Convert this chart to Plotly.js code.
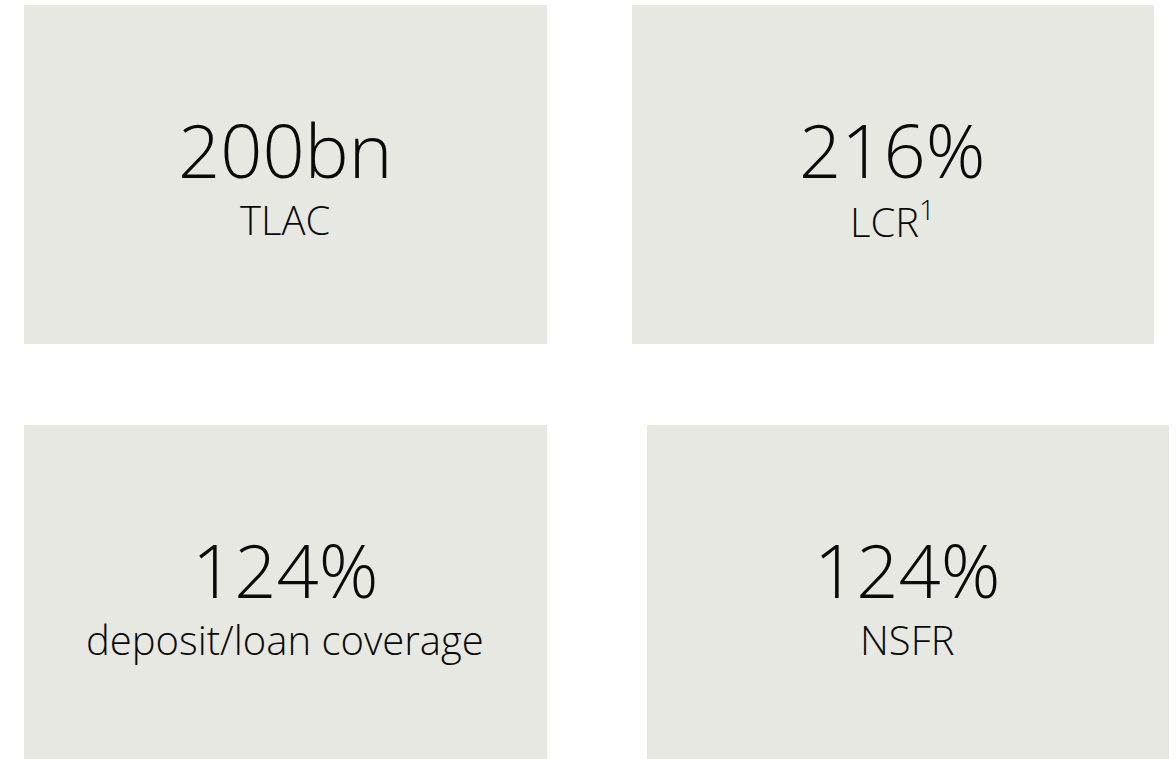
<!DOCTYPE html>
<html>
<head>
<meta charset="utf-8">
<script src="https://cdn.plot.ly/plotly-3.0.1.min.js"></script>
<style>
  html, body { margin: 0; padding: 0; background: #ffffff; }
  #chart { width: 1176px; height: 759px; }
</style>
</head>
<body>
<div id="chart"></div>
<script>
// Data
const kpiValues = ["200bn", "216%", "124%", "124%"];
const kpiLabels = ["TLAC", "LCR<sup>1</sup>", "deposit/loan coverage", "NSFR"];

// Layout of the tiles (pixel-space axes)
const tiles = [
  {x0: 24,  x1: 547,  y0: 5,   y1: 344},
  {x0: 632, x1: 1154, y0: 5,   y1: 344},
  {x0: 24,  x1: 547,  y0: 425, y1: 760},
  {x0: 647, x1: 1169, y0: 425, y1: 760}
];
const tileColor = "#e8e8e3";
const valueOffset = 144;   // from tile top
const labelOffset = 214;

const shapes = tiles.map(t => ({
  type: "rect", xref: "x", yref: "y",
  x0: t.x0, x1: t.x1, y0: t.y0, y1: t.y1,
  fillcolor: tileColor, line: {width: 0}, layer: "below"
}));

const annotations = [];
tiles.forEach((t, i) => {
  const cx = (t.x0 + t.x1) / 2 - 1;
  annotations.push({
    xref: "x", yref: "y", x: cx, y: t.y0 + valueOffset,
    xanchor: "center", yanchor: "middle", showarrow: false,
    text: kpiValues[i],
    font: {family: "Open Sans, sans-serif", size: 74, color: "#0a0a0a", weight: 300}
  });
  annotations.push({
    xref: "x", yref: "y", x: cx, y: t.y0 + labelOffset,
    xanchor: "center", yanchor: "middle", showarrow: false,
    text: kpiLabels[i],
    font: {family: "Open Sans, sans-serif", size: 40, color: "#0a0a0a", weight: 300}
  });
});

const layout = {
  width: 1176, height: 759,
  margin: {l: 0, r: 0, t: 0, b: 0},
  paper_bgcolor: "#ffffff", plot_bgcolor: "#ffffff",
  xaxis: {range: [0, 1176], visible: false, fixedrange: true},
  yaxis: {range: [759, 0], visible: false, fixedrange: true},
  shapes: shapes,
  annotations: annotations,
  showlegend: false
};

Plotly.newPlot("chart", [], layout, {displayModeBar: false, staticPlot: true});
</script>
</body>
</html>
